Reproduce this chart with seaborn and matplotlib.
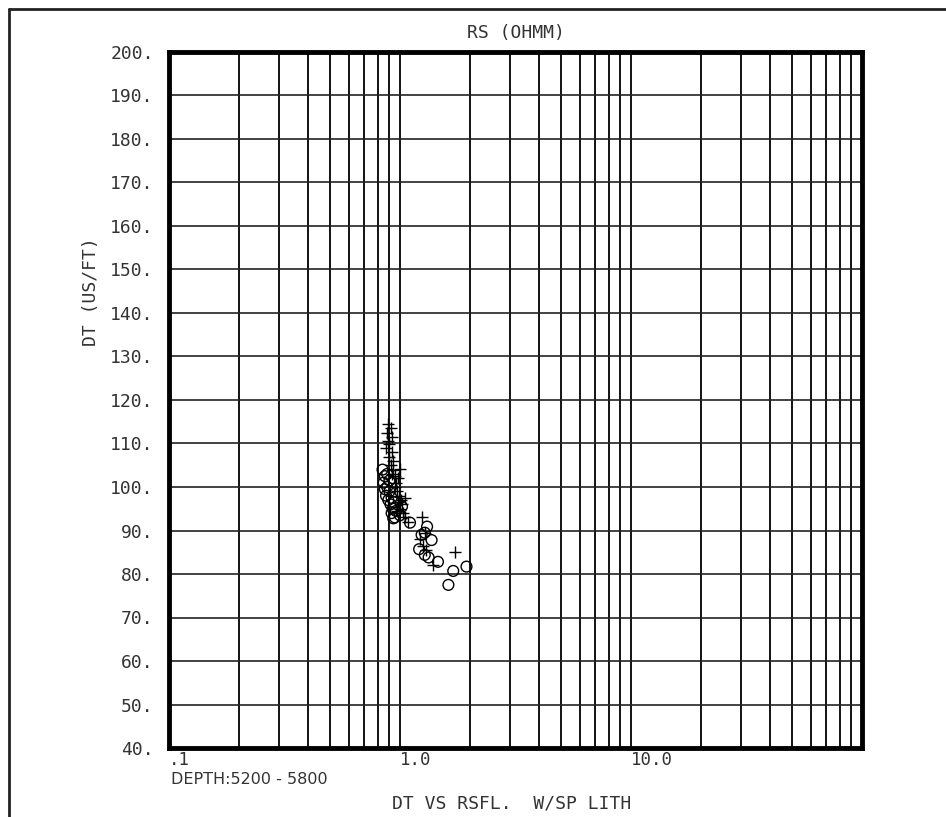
import matplotlib
matplotlib.use("Agg")
import matplotlib.pyplot as plt
from matplotlib.lines import Line2D
from matplotlib.ticker import LogLocator, NullFormatter, FixedLocator
import seaborn as sns

# ------------------------------------------------
# DATA (read off the crossplot)
# ------------------------------------------------
# '+' points: RS (ohmm), DT (us/ft)
plus_rs = [0.89, 0.91, 0.88, 0.92, 0.89, 0.90, 0.87, 0.92, 0.90, 0.93,
           0.91, 0.93, 1.00, 0.92, 0.98, 0.96, 0.95, 0.97, 0.99, 1.01,
           0.98, 1.02, 1.00, 0.97, 1.03, 1.05, 1.24, 1.08, 1.28, 1.22,
           1.26, 1.30, 1.39, 1.73, 1.05, 0.95]
plus_dt = [114.5, 113.5, 112.5, 111.5, 110.5, 109.8, 109.0, 108.0, 107.0, 106.0,
           105.0, 104.0, 104.2, 103.0, 102.0, 101.0, 100.0, 99.0, 98.0, 97.0,
           96.5, 96.0, 95.0, 94.5, 94.0, 93.0, 93.2, 92.0, 89.5, 88.0,
           86.5, 85.5, 82.0, 85.0, 97.5, 102.5]

# 'o' points: RS (ohmm), DT (us/ft)
circ_rs = [0.84, 0.86, 0.85, 0.88, 0.86, 0.90, 0.87, 0.92, 0.89, 0.94,
           0.91, 0.93, 0.96, 0.92, 1.00, 0.95, 0.935, 1.105, 1.31, 1.28,
           1.24, 1.37, 1.21, 1.28, 1.33, 1.46, 1.70, 1.94, 1.62, 0.90,
           0.88, 1.02]
circ_dt = [104.0, 102.5, 101.0, 100.0, 99.5, 99.0, 98.0, 97.5, 97.0, 96.5,
           96.0, 95.0, 94.5, 94.0, 93.5, 93.0, 92.8, 91.8, 90.9, 89.5,
           89.0, 87.8, 85.7, 84.4, 83.8, 82.8, 80.7, 81.7, 77.5, 101.5,
           103.0, 95.5]

y_ticks = list(range(40, 201, 10))
y_ticklabels = [f"{v}." for v in y_ticks]
x_ticks = [0.1, 1.0, 10.0]
x_ticklabels = [".1", "1.0", "10.0"]

# ------------------------------------------------
# FIGURE
# ------------------------------------------------
sns.set_style("white")
mono = "DejaVu Sans Mono"
txt_col = "#333333"

fig = plt.figure(figsize=(9.46, 8.17), dpi=100)
ax = fig.add_axes([169 / 946, 69 / 817, 693 / 946, 696 / 817])

sns.scatterplot(x=circ_rs, y=circ_dt, ax=ax, marker="o", s=60,
                facecolor="none", edgecolor="black", linewidth=1.0, zorder=3)
sns.scatterplot(x=plus_rs, y=plus_dt, ax=ax, marker="+", s=75,
                color="black", linewidth=1.0, zorder=3)

ax.set_xscale("log")
ax.set_xlim(0.1, 100)
ax.set_ylim(40, 200)

ax.xaxis.set_major_locator(FixedLocator(x_ticks))
ax.xaxis.set_minor_locator(LogLocator(base=10, subs=range(2, 10)))
ax.xaxis.set_minor_formatter(NullFormatter())
ax.set_xticklabels(x_ticklabels, fontfamily=mono, fontsize=12.5, color=txt_col,
                   ha="left")
ax.set_yticks(y_ticks)
ax.set_yticklabels(y_ticklabels, fontfamily=mono, fontsize=13, color=txt_col)
ax.tick_params(axis="both", which="both", length=0)
ax.tick_params(axis="x", pad=2)
ax.tick_params(axis="y", pad=11)

ax.grid(axis="x", which="both", color="black", linewidth=1.3)
ax.grid(axis="y", which="major", color="#222222", linewidth=1.2)
for sp in ax.spines.values():
    sp.set_visible(True)
    sp.set_color("black")
    sp.set_linewidth(3.5)

ax.set_ylabel("DT (US/FT)", fontfamily=mono, fontsize=13, color=txt_col)
ax.yaxis.set_label_coords((100 - 169) / 693, (748 - 292) / 696)
ax.set_xlabel("")

fig.text(516 / 946, 1 - 33 / 817, "RS (OHMM)", fontfamily=mono, fontsize=13,
         color=txt_col, ha="center", va="center")
fig.text(171 / 946, 1 - 779 / 817, "DEPTH:5200 - 5800", fontfamily="DejaVu Sans",
         fontsize=11.5, color=txt_col, ha="left", va="center")
fig.text(512 / 946, 1 - 803 / 817, "DT VS RSFL.  W/SP LITH", fontfamily=mono,
         fontsize=13, color=txt_col, ha="center", va="center")

# outer page border (top and left edges visible)
fig.add_artist(Line2D([9 / 946, 1.0], [1 - 9 / 817, 1 - 9 / 817],
                      transform=fig.transFigure, color="#222222", linewidth=2))
fig.add_artist(Line2D([9 / 946, 9 / 946], [0.0, 1 - 9 / 817],
                      transform=fig.transFigure, color="#222222", linewidth=2))

fig.savefig("out.png", dpi=100)
